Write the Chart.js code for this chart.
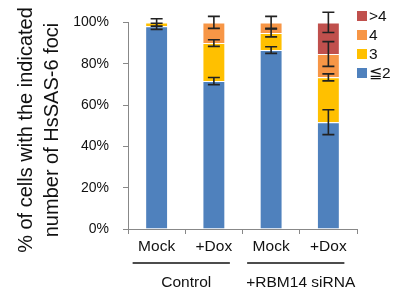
<!DOCTYPE html>
<html>
<head>
<meta charset="utf-8">
<script src="https://cdn.jsdelivr.net/npm/chart.js@4.4.1/dist/chart.umd.min.js"></script>
<style>
  html, body { margin: 0; padding: 0; background: #fff; }
  canvas { display: block; }
</style>
</head>
<body>
<canvas id="chartUI" width="400" height="295"></canvas>
<script>
// Podaci procitani sa slike (procenti)
var categories = ['Mock', '+Dox', 'Mock', '+Dox'];
var groups = ['Control', '+RBM14 siRNA'];
var seriesNames = ['\u22662', '3', '4', '>4'];
var seriesColors = ['#4F81BD', '#FFC000', '#F79646', '#C0504D'];

var le2Values = [98.1, 71.6, 86.6, 51.7];
var threeValues = [1.9, 18.4, 8.3, 21.7];
var fourValues = [0, 10.0, 5.1, 11.3];
var gt4Values = [0, 0, 0, 15.3];

var le2Err = [1.5, 1.7, 1.6, 6.0];
var threeErr = [1.8, 1.6, 1.9, 1.7];
var fourErr = [0, 2.9, 2.9, 6.0];
var gt4Err = [0, 0, 0, 4.9];

var yTicks = [0, 20, 40, 60, 80, 100];

var allValues = [le2Values, threeValues, fourValues, gt4Values];
var allErrors = [le2Err, threeErr, fourErr, gt4Err];

var FONT = 'Arial, "Liberation Sans", sans-serif';

// Error bars na vrhu svakog segmenta
var errorBarPlugin = {
	id: 'errorBars',
	afterDatasetsDraw: function(chart) {
		var c = chart.ctx, ys = chart.scales.y;
		c.save();
		c.strokeStyle = '#222';
		c.lineWidth = 1.6;
		allValues.forEach(function(vals, i) {
			var meta = chart.getDatasetMeta(i);
			vals.forEach(function(v, j) {
				var e = allErrors[i][j];
				if (!e) return;
				var top = 0;
				for (var k = 0; k <= i; k++) top += allValues[k][j];
				var x = meta.data[j].x;
				var y1 = ys.getPixelForValue(top + e), y2 = ys.getPixelForValue(top - e);
				c.beginPath();
				c.moveTo(x, y1); c.lineTo(x, y2);
				c.moveTo(x - 6, y1); c.lineTo(x + 6, y1);
				c.moveTo(x - 6, y2); c.lineTo(x + 6, y2);
				c.stroke();
			});
		});
		c.restore();
	}
};

// Naslov y ose, grupe ispod x ose i legenda
var decorPlugin = {
	id: 'decor',
	afterDraw: function(chart) {
		var c = chart.ctx, xs = chart.scales.x, area = chart.chartArea;
		c.save();
		c.fillStyle = '#111';
		c.font = '20px ' + FONT;
		c.textAlign = 'center';
		c.textBaseline = 'middle';
		var cy = 130;
		c.save();
		c.translate(26, cy); c.rotate(-Math.PI / 2);
		c.fillText('% of cells with the indicated', 0, 0);
		c.restore();
		c.save();
		c.translate(52, cy); c.rotate(-Math.PI / 2);
		c.fillText('number of HsSAS-6 foci', 0, 0);
		c.restore();

		// grupe
		c.strokeStyle = '#111';
		c.lineWidth = 1.5;
		c.font = '15.5px ' + FONT;
		groups.forEach(function(g, gi) {
			var a = xs.getPixelForValue(gi * 2), b = xs.getPixelForValue(gi * 2 + 1);
			c.beginPath();
			c.moveTo(a - 24, 263); c.lineTo(b + 16, 263);
			c.stroke();
			c.fillText(g, (a + b) / 2 + 1, 283);
		});

		// legenda (obrnut redosled)
		c.textAlign = 'left';
		c.font = '15.5px ' + FONT;
		for (var i = seriesNames.length - 1; i >= 0; i--) {
			var y = 16 + (seriesNames.length - 1 - i) * 19;
			c.fillStyle = seriesColors[i];
			c.fillRect(357, y - 5, 10, 10);
			c.fillStyle = '#111';
			c.fillText(seriesNames[i], 369, y + 1);
		}
		c.restore();
	}
};

var datasets = allValues.map(function(vals, i) {
	return {
		label: seriesNames[i],
		data: vals,
		backgroundColor: seriesColors[i],
		borderColor: 'rgba(255,255,255,0.45)',
		borderWidth: 1,
		barPercentage: 0.4,
		categoryPercentage: 1.0
	};
});

var chartConfig = {
	type: 'bar',
	data: { labels: categories, datasets: datasets },
	options: {
		responsive: false,
		animation: false,
		layout: { padding: { top: 20, right: 43, left: 0, bottom: 0 } },
		plugins: { legend: { display: false }, tooltip: { enabled: false } },
		scales: {
			x: {
				stacked: true,
				afterFit: function(s) { s.height = 66; },
				border: { color: '#888', width: 1 },
				grid: { display: true, drawOnChartArea: false, offset: true, tickLength: 5, color: '#888' },
				ticks: { color: '#111', font: { size: 15.5, family: FONT }, padding: 3 }
			},
			y: {
				stacked: true,
				min: 0, max: 100,
				afterFit: function(s) { s.width = 128; },
				afterBuildTicks: function(s) { s.ticks = yTicks.map(function(v) { return { value: v }; }); },
				border: { color: '#888', width: 1 },
				grid: { display: true, drawOnChartArea: false, tickLength: 5, color: '#888' },
				ticks: {
					color: '#111', font: { size: 14, family: FONT }, padding: 14,
					callback: function(v) { return v + '%'; }
				}
			}
		}
	},
	plugins: [errorBarPlugin, decorPlugin]
};

var scatterChart = new Chart(document.getElementById('chartUI'), chartConfig);
</script>
</body>
</html>
